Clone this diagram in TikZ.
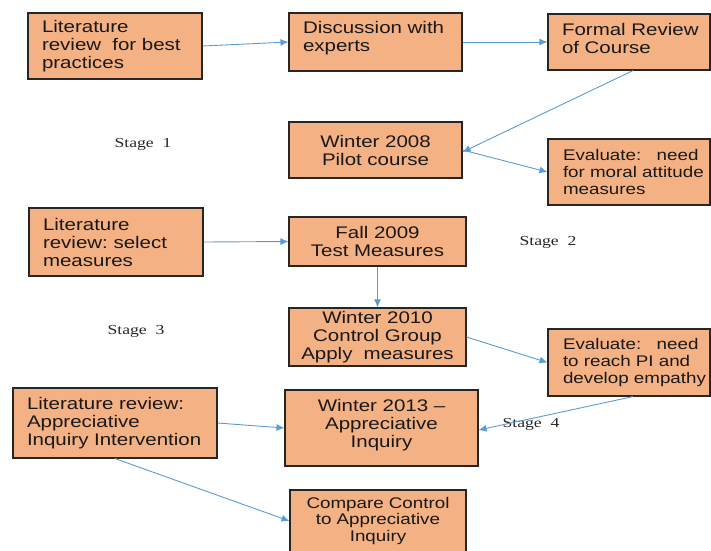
\documentclass[tikz,border=0pt]{standalone}
\usepackage{fontspec}
\usetikzlibrary{arrows.meta}
\newfontfamily\boxfamily[FakeStretch=1.22]{Liberation Sans}
\newfontfamily\stagefamily[FakeStretch=1.28]{Liberation Serif}
\definecolor{boxfill}{RGB}{244,177,131}
\definecolor{flowblue}{RGB}{91,155,213}
\hyphenpenalty=10000
\exhyphenpenalty=10000
\hfuzz=60pt
\hbadness=10000
\begin{document}
\begin{tikzpicture}[x=1pt,y=-1pt,
  stepbox/.style={draw=black!85, line width=1.1pt, fill=boxfill, text=black!90,
    inner ysep=0pt, font=\boxfamily\fontsize{16.8}{18}\selectfont},
  smalltext/.style={font=\boxfamily\fontsize{15.4}{16.6}\selectfont},
  leftbox/.style={align=left, inner xsep=14pt},
  midbox/.style={align=center, inner xsep=5pt},
  flow/.style={draw=flowblue, line width=0.9pt, -{Latex[length=8pt,width=7pt]}},
  stagelabel/.style={font=\stagefamily\fontsize{13.8}{15}\selectfont, text=black!85}
]
\useasboundingbox (0,0) rectangle (711,550);

% stage 1
\node[stepbox, leftbox, minimum width=174pt, minimum height=66pt, text width=146pt]
  (litbest) at (115,46) {\mbox{Literature}\\\mbox{review~~for~best}\\\mbox{practices}};
\node[stepbox, leftbox, minimum width=173pt, minimum height=58pt, text width=145pt]
  (experts) at (375.5,42) {\mbox{Discussion~with}\\\mbox{experts}\par\vspace{8pt}};
\node[stepbox, leftbox, minimum width=162pt, minimum height=56pt, text width=134pt]
  (formal) at (629,42) {\mbox{Formal~Review}\\\mbox{of~Course}\par\vspace{8pt}};
\node[stepbox, midbox, minimum width=173pt, minimum height=56pt, text width=163pt]
  (pilot) at (375.5,150) {Winter 2008\\Pilot course};
\node[stepbox, smalltext, leftbox, inner xsep=15pt, minimum width=162pt, minimum height=66pt, text width=132pt]
  (evalmoral) at (629,172) {\mbox{Evaluate:~~~need}\\\mbox{for~moral~attitude}\\\mbox{measures}};

% stage 2
\node[stepbox, leftbox, minimum width=174pt, minimum height=68pt, text width=146pt]
  (litselect) at (116,242) {\mbox{Literature}\\\mbox{review:~select}\\\mbox{measures}};
\node[stepbox, midbox, minimum width=177pt, minimum height=49pt, text width=167pt]
  (fall) at (377.5,241.5) {Fall 2009\\Test Measures};

% stage 3
\node[stepbox, midbox, minimum width=177pt, minimum height=58pt, text width=167pt]
  (control) at (377.5,337) {Winter 2010\\Control Group\\Apply~~measures};
\node[stepbox, smalltext, leftbox, inner xsep=15pt, minimum width=162pt, minimum height=67pt, text width=132pt]
  (evalpi) at (629,362.5) {\mbox{Evaluate:~~~need}\\\mbox{to~reach~PI~and}\\\mbox{develop~empathy}};

% stage 4
\node[stepbox, leftbox, minimum width=204pt, minimum height=70pt, text width=176pt]
  (litai) at (115,423) {\mbox{Literature~review:}\\\mbox{Appreciative}\\\mbox{Inquiry~Intervention}};
\node[stepbox, midbox, minimum width=193pt, minimum height=76pt, text width=183pt]
  (ai) at (381.5,428) {Winter 2013 –\\Appreciative\\Inquiry\par\vspace{6pt}};
\node[stepbox, smalltext, midbox, minimum width=176pt, minimum height=62pt, text width=166pt]
  (compare) at (378,521) {Compare Control\\to Appreciative\\Inquiry};

% stage captions
\node[stagelabel] (s1) at (143,144) {Stage~~1};
\node[stagelabel] (s2) at (548,242) {Stage~~2};
\node[stagelabel] (s3) at (136,331) {Stage~~3};
\node[stagelabel] (s4) at (531,424) {Stage~~4};

% connectors
\draw[flow] (litbest.east) -- (experts.west);
\draw[flow] (experts.east) -- (formal.west);
\draw[flow] ([xshift=4pt]formal.south) -- ([yshift=-2pt]pilot.east);
\draw[flow] (pilot.east) -- (evalmoral.west);
\draw[flow] (litselect.east) -- (fall.west);
\draw[flow] (fall.south) -- (control.north);
\draw[flow] (control.east) -- (evalpi.west);
\draw[flow] ([xshift=4pt]evalpi.south) -- ([yshift=-2pt]ai.east);
\draw[flow] (litai.east) -- (ai.west);
\draw[flow] (litai.south) -- (compare.west);
\end{tikzpicture}
\end{document}
